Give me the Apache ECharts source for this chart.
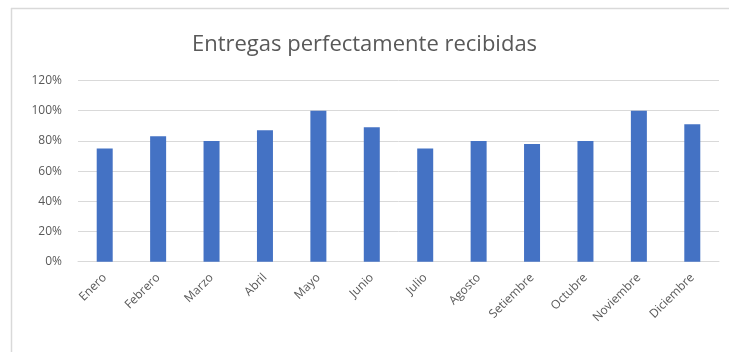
<!DOCTYPE html>
<html>
<head>
<meta charset="utf-8">
<script src="https://cdn.jsdelivr.net/npm/echarts@6/dist/echarts.min.js"></script>
<style>
html,body{margin:0;padding:0;background:#fff;}
#c{width:729px;height:352px;}
</style>
</head>
<body>
<div id="c"></div>
<script>
var categories = ['Enero','Febrero','Marzo','Abril','Mayo','Junio','Julio','Agosto','Setiembre','Octubre','Noviembre','Diciembre'];
var values = [0.75, 0.83, 0.80, 0.87, 1.00, 0.89, 0.75, 0.80, 0.78, 0.80, 1.00, 0.91];
var titleText = 'Entregas perfectamente recibidas';

var chart = echarts.init(document.getElementById('c'));
chart.setOption({
  animation: false,
  backgroundColor: '#ffffff',
  title: {
    text: titleText,
    left: 'center',
    top: 29,
    textStyle: { fontFamily: 'Open Sans', fontSize: 22, fontWeight: 'normal', color: '#595959' }
  },
  graphic: [
    { type: 'line', shape: { x1: 11, y1: 8.5, x2: 729, y2: 8.5 }, style: { stroke: '#d9d9d9', lineWidth: 1.5 } },
    { type: 'line', shape: { x1: 11.5, y1: 8, x2: 11.5, y2: 352 }, style: { stroke: '#d9d9d9', lineWidth: 1.5 } }
  ],
  grid: { left: 78, right: 10, top: 80.5, bottom: 90.3, containLabel: false },
  xAxis: {
    type: 'category',
    data: categories,
    axisLine: { show: true, lineStyle: { color: '#d9d9d9', width: 1 } },
    axisTick: { show: false },
    axisLabel: { rotate: 45, interval: 0, margin: 14, color: '#595959', fontFamily: 'Open Sans', fontSize: 12 }
  },
  yAxis: {
    type: 'value',
    min: 0, max: 1.2, interval: 0.2,
    axisLine: { show: false },
    axisTick: { show: false },
    splitLine: { lineStyle: { color: '#d9d9d9', width: 1 } },
    axisLabel: {
      margin: 16,
      color: '#595959', fontFamily: 'Open Sans', fontSize: 12,
      formatter: function (v) { return Math.round(v * 100) + '%'; }
    }
  },
  series: [{
    type: 'bar',
    data: values,
    barWidth: 16,
    itemStyle: { color: '#4472c4' }
  }]
});
</script>
</body>
</html>
